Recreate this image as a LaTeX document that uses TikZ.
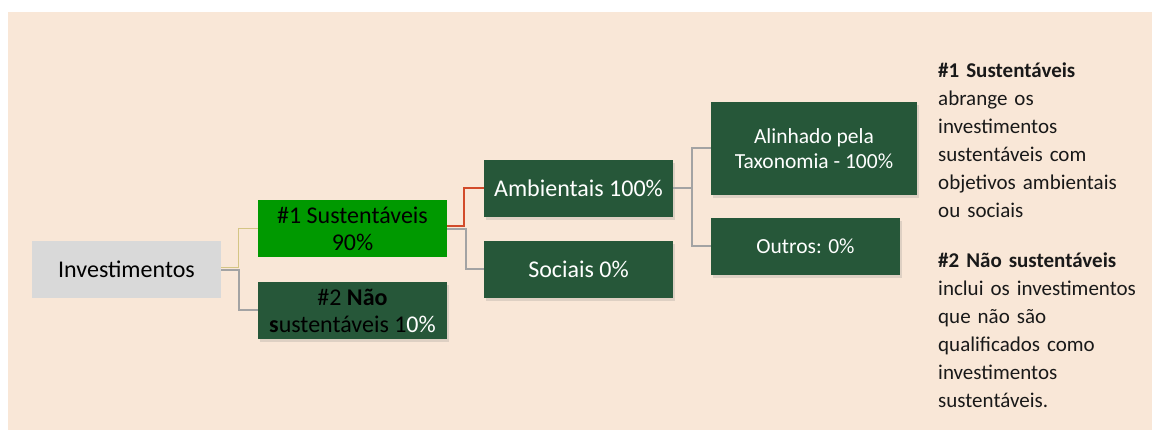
\documentclass[tikz,border=0pt]{standalone}
\usepackage{fontspec}
\setmainfont{Carlito}
\usetikzlibrary{shadows}

\definecolor{bgsand}{HTML}{F9E7D7}
\definecolor{darkgreen}{HTML}{265739}
\definecolor{brightgreen}{HTML}{009900}
\definecolor{lightgrey}{HTML}{D9D9D9}
\definecolor{linegrey}{HTML}{A3A3A3}
\definecolor{linered}{HTML}{D24B2A}
\definecolor{linetan}{HTML}{D4C585}

\begin{document}
\begin{tikzpicture}[x=1pt, y=-1pt,
    box/.style={minimum width=189pt, minimum height=57pt, inner sep=2pt, align=center,
        font=\fontsize{24}{27}\selectfont},
    darkbox/.style={box, fill=darkgreen, text=white,
        drop shadow={opacity=0.22, shadow xshift=1.5pt, shadow yshift=-3pt}},
    link/.style={line width=2pt, linegrey}]
    % Page and background
    \useasboundingbox (0,0) rectangle (1152,430);
    \fill[bgsand] (8,12) rectangle (1152,430);

    % Boxes
    \node[box, fill=lightgrey] (inv) at (126.5,269.5) {Investimentos};
    \node[box, fill=brightgreen] (sus) at (352.5,228.5) {\#1 Sustentáveis\\90\%};
    \node[darkbox, text=black] (nsus) at (352.5,310.5)
        {\#2 \textbf{Não}\\\textbf{s}ustentáveis 1\textcolor{white}{0\%}};
    \node[darkbox] (amb) at (578.5,188.5) {Ambientais 100\%};
    \node[darkbox] (soc) at (578.5,269.5) {Sociais 0\%};
    \node[darkbox, minimum width=206pt, minimum height=93pt,
        font=\fontsize{21.5}{25}\selectfont] (tax) at (814,148.5) {Alinhado pela\\Taxonomia - 100\%};
    \node[darkbox, font=\fontsize{21.5}{25}\selectfont] (out) at (805.5,246.5) {Outros: 0\%};

    % Connectors
    \draw[link, linetan, line width=1.3pt] ([yshift=2pt]inv.east) -- ++(17,0) |- (sus.west);
    \draw[link] ([yshift=-1pt]inv.east) -- ++(18,0) |- (nsus.west);
    \draw[link, linered] ([yshift=2.5pt]sus.east) -- ++(17,0) |- (amb.west);
    \draw[link] ([yshift=-0.5pt]sus.east) -- ++(19,0) |- (soc.west);
    \draw[link] (amb.east) -- ++(19,0) |- (tax.west);
    \draw[link] (amb.east) -- ++(19,0) |- (out.west);

    % Legend text
    \node[anchor=north west, inner sep=0pt, text width=215pt, align=left,
        font=\fontsize{21}{28}\selectfont, text=black!90] (legend) at (938,63)
        {\textbf{\#1 Sustentáveis}\\
         abrange os\\
         investimentos\\
         sustentáveis com\\
         objetivos ambientais\\
         ou sociais\\[22pt]
         \textbf{\#2 Não sustentáveis}\\
         inclui os investimentos\\
         que não são\\
         qualificados como\\
         investimentos\\
         sustentáveis.};
\end{tikzpicture}
\end{document}
